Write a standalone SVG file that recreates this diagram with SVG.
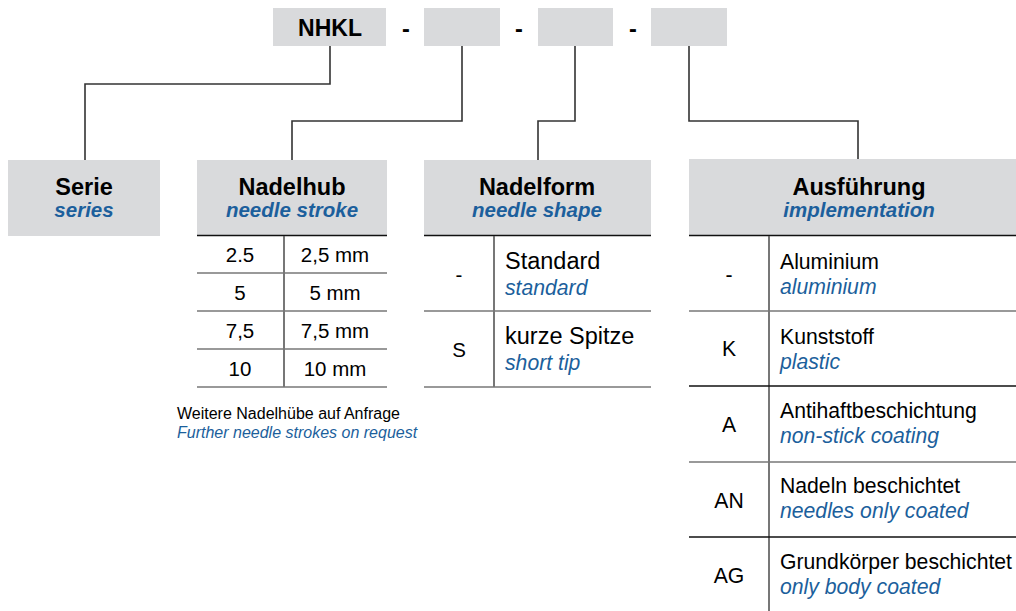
<svg xmlns="http://www.w3.org/2000/svg" width="1016" height="611" viewBox="0 0 1016 611">
<style>
text{font-family:"Liberation Sans",Arial,sans-serif;fill:#000}
.box{fill:#d9dadc}
.hd{font-weight:bold;font-size:23.5px;text-anchor:middle}
.hen{font-weight:bold;font-style:italic;font-size:20.5px;fill:#1c5f9c;text-anchor:middle}
.en{font-style:italic;fill:#1c5f9c}
.c{text-anchor:middle}
.t20{font-size:20.5px}
.t21{font-size:21.2px}
.t22{font-size:23.5px}
.hl{stroke:#111;stroke-width:1.6;fill:none}
.rl{stroke:#777;stroke-width:1.6;fill:none}
.vl{stroke:#555;stroke-width:1.6;fill:none}
.con{stroke:#333;stroke-width:1.6;fill:none}
</style>
<rect width="1016" height="611" fill="#fff"/>
<g id="code">
<rect class="box" x="273" y="8" width="113" height="38"/>
<text x="330" y="36" class="hd" style="font-size:23px">NHKL</text>
<text x="406" y="37" class="hd">-</text>
<rect class="box" x="424" y="8" width="76" height="38"/>
<text x="519" y="37" class="hd">-</text>
<rect class="box" x="538" y="8" width="75" height="38"/>
<text x="633" y="37" class="hd">-</text>
<rect class="box" x="651" y="8" width="76" height="38"/>
</g>
<g id="connectors">
<path class="con" d="M330,46 V84 H85 V160"/>
<path class="con" d="M462,46 V121 H292 V160"/>
<path class="con" d="M575,46 V121 H538 V160"/>
<path class="con" d="M689,46 V121 H858 V159"/>
</g>
<g id="serie">
<rect class="box" x="8" y="160" width="152" height="76"/>
<text x="84" y="195" class="hd">Serie</text>
<text x="84" y="217" class="hen">series</text>
</g>
<g id="nadelhub">
<rect class="box" x="197" y="160" width="190" height="75"/>
<text x="292" y="195" class="hd">Nadelhub</text>
<text x="292" y="217" class="hen">needle stroke</text>
<line class="hl" x1="197" y1="235.5" x2="387" y2="235.5"/>
<line class="vl" x1="284" y1="236" x2="284" y2="387"/>
<line class="rl" x1="197" y1="273" x2="387" y2="273"/>
<line class="rl" x1="197" y1="311" x2="387" y2="311"/>
<line class="rl" x1="197" y1="349" x2="387" y2="349"/>
<line class="rl" x1="197" y1="387" x2="387" y2="387"/>
<g class="t20">
<text x="240" y="262" class="c">2.5</text><text x="335" y="262" class="c">2,5 mm</text>
<text x="240" y="300" class="c">5</text><text x="335" y="300" class="c">5 mm</text>
<text x="240" y="338" class="c">7,5</text><text x="335" y="338" class="c">7,5 mm</text>
<text x="240" y="376" class="c">10</text><text x="335" y="376" class="c">10 mm</text>
</g>
<text x="177" y="419" style="font-size:16px">Weitere Nadelhübe auf Anfrage</text>
<text x="177" y="438" class="en" style="font-size:16px">Further needle strokes on request</text>
</g>
<g id="nadelform">
<rect class="box" x="424" y="160" width="227" height="75"/>
<text x="537" y="195" class="hd">Nadelform</text>
<text x="537" y="217" class="hen">needle shape</text>
<line class="hl" x1="424" y1="235.5" x2="651" y2="235.5"/>
<line class="vl" x1="494" y1="236" x2="494" y2="387"/>
<line class="rl" x1="424" y1="311" x2="651" y2="311"/>
<line class="rl" x1="424" y1="387" x2="651" y2="387"/>
<text x="459" y="282" class="c t20">-</text>
<text x="459" y="357" class="c t20">S</text>
<text x="505" y="269" class="t22">Standard</text>
<text x="505" y="295" class="t21 en">standard</text>
<text x="505" y="344" class="t22">kurze Spitze</text>
<text x="505" y="370" class="t21 en">short tip</text>
</g>
<g id="ausfuehrung">
<rect class="box" x="689" y="159" width="327" height="76"/>
<text x="859" y="195" class="hd">Ausführung</text>
<text x="859" y="217" class="hen">implementation</text>
<line class="hl" x1="689" y1="235.5" x2="1016" y2="235.5"/>
<line class="vl" x1="769" y1="236" x2="769" y2="611"/>
<line class="rl" x1="689" y1="311" x2="1016" y2="311"/>
<line class="hl" x1="689" y1="386" x2="1016" y2="386"/>
<line class="rl" x1="689" y1="462" x2="1016" y2="462"/>
<line class="hl" x1="689" y1="537" x2="1016" y2="537"/>
<g class="t21">
<text x="729" y="282" class="c">-</text>
<text x="729" y="356" class="c">K</text>
<text x="729" y="432" class="c">A</text>
<text x="729" y="508" class="c">AN</text>
<text x="729" y="583" class="c">AG</text>
<text x="780" y="269">Aluminium</text>
<text x="780" y="294" class="en">aluminium</text>
<text x="780" y="344">Kunststoff</text>
<text x="780" y="369" class="en">plastic</text>
<text x="780" y="418">Antihaftbeschichtung</text>
<text x="780" y="443" class="en">non-stick coating</text>
<text x="780" y="493">Nadeln beschichtet</text>
<text x="780" y="518" class="en">needles only coated</text>
<text x="780" y="569">Grundkörper beschichtet</text>
<text x="780" y="594" class="en">only body coated</text>
</g>
</g>
</svg>
